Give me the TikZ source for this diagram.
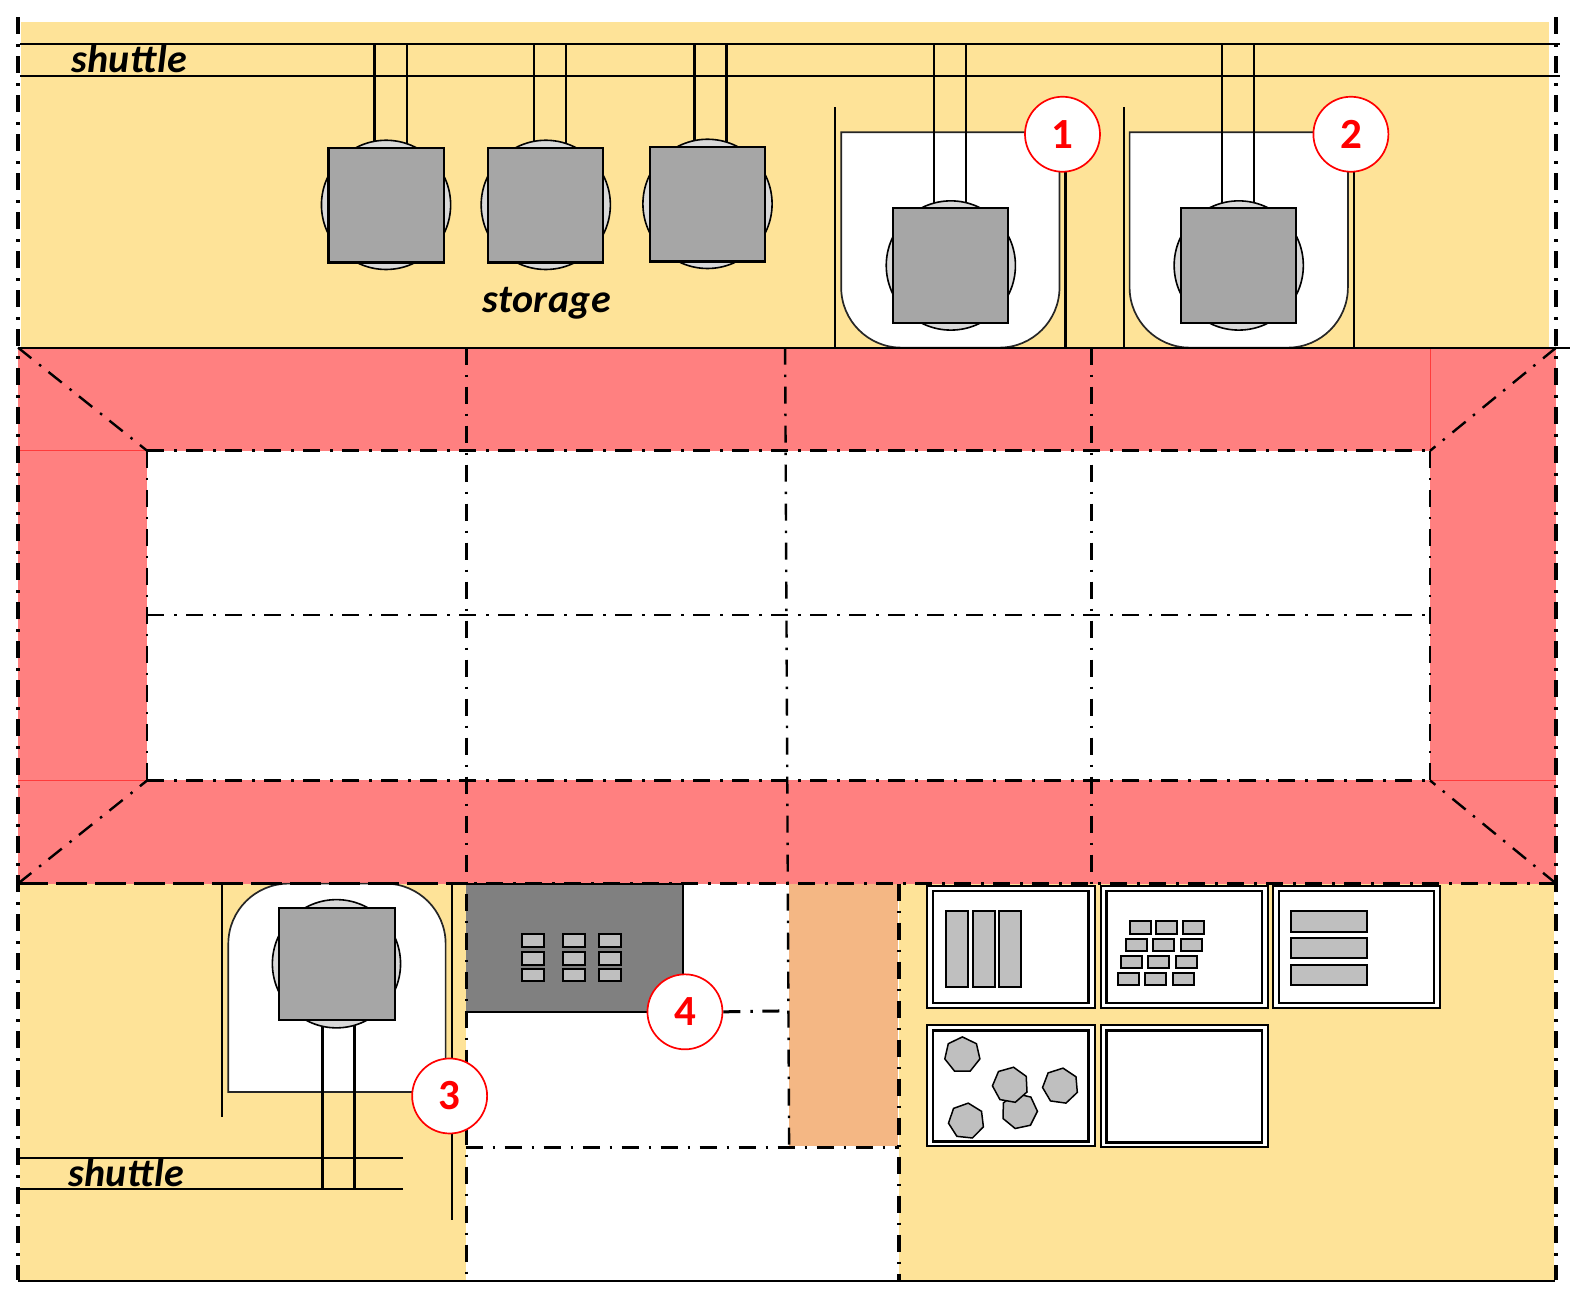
\documentclass[tikz,border=0pt]{standalone}
\usepackage{fontspec}
\setmainfont{Carlito}
\usetikzlibrary{shapes.geometric}
\definecolor{zoneyellow}{HTML}{FEE398}
\definecolor{zonered}{HTML}{FF8080}
\definecolor{zoneorange}{HTML}{F4B784}
\definecolor{boxgrey}{HTML}{A6A6A6}
\definecolor{discgrey}{HTML}{D9D9D9}
\definecolor{itemgrey}{HTML}{BFBFBF}
\definecolor{traygrey}{HTML}{808080}
\definecolor{faintred}{HTML}{FF3B3B}
\tikzset{
  dd/.style={line width=3pt,dash pattern=on 17pt off 10pt on 2.5pt off 9.5pt},
  ddthin/.style={dd,line width=2.4pt},
  ddthick/.style={dd,line width=3.6pt},
  solidline/.style={draw=black,line width=2.1pt},
  faint/.style={draw=faintred,line width=0.8pt},
  pocketbox/.style={draw=black!85,line width=1.7pt,fill=white},
  disc/.style={draw=black,line width=1.6pt,fill=discgrey},
  crate/.style={draw=black,line width=2.1pt,fill=boxgrey},
  item/.style={draw=black,line width=1.9pt,fill=itemgrey},
  outerframe/.style={draw=black,line width=2.1pt,fill=white},
  innerframe/.style={draw=black,line width=2.3pt,fill=white},
  rock/.style={regular polygon,regular polygon sides=7,minimum size=36pt,inner sep=0pt,draw=black,line width=1.5pt,fill=itemgrey},
  badge/.style={circle,draw=red,line width=1.7pt,fill=white,minimum size=75pt,inner sep=0pt,text=red,font=\fontsize{43}{43}\selectfont\bfseries},
  caption/.style={font=\fontsize{40}{40}\selectfont\bfseries\itshape,inner sep=0pt,anchor=base west}
}
\newcommand{\machine}[2]{%
  \fill[disc] (#1,#2) circle[radius=64.5];
  \draw[crate] (#1-57.5,#2-57) rectangle (#1+57.5,#2+57.5);
}
\newcommand{\panel}[4]{%
  \draw[outerframe] (#1,#3) rectangle (#2,#4);
  \draw[innerframe] (#1+6,#3+5.5) rectangle (#2-6,#4-4.5);
}
\begin{document}
\begin{tikzpicture}[x=1.0014pt,y=-1.0018pt]
\useasboundingbox[fill=white] (0pt,0pt) rectangle (1570pt,-1296pt);
% zones
\fill[zoneyellow] (21,22) rectangle (1547,347);
\fill[zoneyellow] (20,882) rectangle (465,1278);
\fill[zoneyellow] (898,882) rectangle (1552,1278);
\fill[zoneorange] (788,882) rectangle (897,1144);
\fill[zonered] (18,347) rectangle (1554,882);
\fill[white] (147,450) rectangle (1428,779);
\draw[faint] (18,450) -- (147,450);
\draw[faint] (18,779) -- (147,779);
\draw[faint] (1428,347) -- (1428,450);
\draw[faint] (1428,779) -- (1554,779);
% tray
\fill[traygrey] (465,882) rectangle (682,1010);
\draw[solidline] (465,882) -- (682,882) -- (682,1010) -- (465,1010);
\foreach \xa in {521,562,598}{
  \draw[item] (\xa,932) rectangle (\xa+22,945);
  \draw[item] (\xa,950) rectangle (\xa+22,963);
  \draw[item] (\xa,967) rectangle (\xa+22,979);
}
% shuttles top
\draw[solidline] (20,44) -- (1558,44);
\draw[solidline] (20,76) -- (1558,76);
\node[caption] (shuttletop) at (71,72) {\addfontfeatures{LetterSpace=1}shuttle};
\node[caption] (storage) at (482,312) {\addfontfeatures{LetterSpace=1}storage};
% free machines
\foreach \xa in {374,406,533.5,565.5,693.5,725.5}{\draw[solidline] (\xa,44) -- (\xa,150);}
\machine{385.5}{204.5}
\machine{545}{204.5}
\machine{706.5}{203.5}
% pocket 1
\draw[solidline] (834,107) -- (834,347);
\draw[solidline] (1064,172) -- (1064,347);
\draw[pocketbox] (840,132) -- (840,287) .. controls (840,320) and (867,347) .. (900,347) -- (998,347) .. controls (1031,347) and (1058,320) .. (1058,287) -- (1058,132) -- cycle;
\foreach \xa in {933,965}{\draw[solidline] (\xa,44) -- (\xa,210);}
\machine{949.5}{265}
% pocket 2
\draw[solidline] (1122,107) -- (1122,347);
\draw[solidline] (1352,172) -- (1352,347);
\draw[pocketbox] (1128,132) -- (1128,287) .. controls (1128,320) and (1155,347) .. (1188,347) -- (1286,347) .. controls (1319,347) and (1346,320) .. (1346,287) -- (1346,132) -- cycle;
\foreach \xa in {1220.5,1252}{\draw[solidline] (\xa,44) -- (\xa,210);}
\machine{1237}{265}
% pocket 3
\draw[solidline] (222,882) -- (222,1115);
\draw[solidline] (451,882) -- (451,1218);
\draw[pocketbox] (228,1090) -- (228,942) .. controls (228,909) and (255,882) .. (288,882) -- (385,882) .. controls (418,882) and (445,909) .. (445,942) -- (445,1090) -- cycle;
\draw[solidline] (18,1156) -- (402,1156);
\draw[solidline] (18,1187) -- (402,1187);
\foreach \xa in {322,354}{\draw[solidline] (\xa,1010) -- (\xa,1187);}
\fill[disc] (336,962) circle[radius=64];
\draw[crate] (278.5,906) rectangle (394,1018);
\node[caption] (shuttlelow) at (68,1184) {\addfontfeatures{LetterSpace=1}shuttle};
% grid lines
\draw[ddthick] (18,17) -- (18,1278);
\draw[ddthick] (1554,17) -- (1554,1278);
\draw[dd] (147,450) -- (1428,450);
\draw[ddthin] (147,614) -- (1428,614);
\draw[dd] (147,779) -- (1428,779);
\draw[ddthin] (147,450) -- (147,779);
\draw[ddthin] (1428,450) -- (1428,779);
\draw[dd] (466,347) -- (466,1278);
\draw[ddthin] (784,347) -- (788,1145);
\draw[ddthick] (1090,347) -- (1090,882);
\draw[ddthick] (898,882) -- (898,1278);
\draw[dd] (18,882) -- (1554,882);
\draw[dd,dash phase=28pt] (18,882) -- (465,882);
\draw[dd] (465,1145) -- (898,1145);
\draw[ddthin] (18,347) -- (147,450);
\draw[ddthin] (18,882) -- (147,779);
\draw[ddthin] (1554,347) -- (1428,450);
\draw[ddthin] (1554,882) -- (1428,779);
% solid borders
\draw[solidline] (18,347.5) -- (1568,347.5);
\draw[solidline] (18,1278.5) -- (1553,1278.5);
% panels
\panel{926}{1093}{884}{1006}
\panel{1099}{1266}{884}{1006}
\panel{1271}{1438}{884}{1006}
\panel{926}{1093}{1023}{1144}
\panel{1099}{1266}{1023}{1145}
\foreach \xa in {945,972,998}{\draw[item] (\xa,909) rectangle (\xa+21.5,985);}
\foreach \ya/\yb in {909/930,936/956,963/983}{\draw[item] (1289,\ya) rectangle (1365,\yb);}
\foreach \xa in {1128,1154,1181}{\draw[item] (\xa,919) rectangle (\xa+21.5,932);}
\foreach \xa in {1124,1151,1179}{\draw[item] (\xa,937) rectangle (\xa+21.5,949);}
\foreach \xa in {1119,1146,1174}{\draw[item] (\xa,954) rectangle (\xa+21.5,966);}
\foreach \xa in {1116,1143,1171}{\draw[item] (\xa,971) rectangle (\xa+21.5,983);}
\node[rock] (rocka) at (961,1053) {};
\node[rock,rotate=12] (rockb) at (1018,1109) {};
\node[rock,rotate=-10] (rockc) at (1009,1083) {};
\node[rock,rotate=-8] (rockd) at (1059,1084) {};
\node[rock,rotate=-6] (rocke) at (965,1119) {};
% badges
\node[badge] (c1) at (1061,134) {1};
\node[badge] (c2) at (1349,134) {2};
\node[badge] (c3) at (449,1094) {3};
\node[badge] (c4) at (684,1010) {4};
\coordinate (c4end) at (788,1009);
\draw[dd] (c4.east) -- (c4end);
\end{tikzpicture}
\end{document}
